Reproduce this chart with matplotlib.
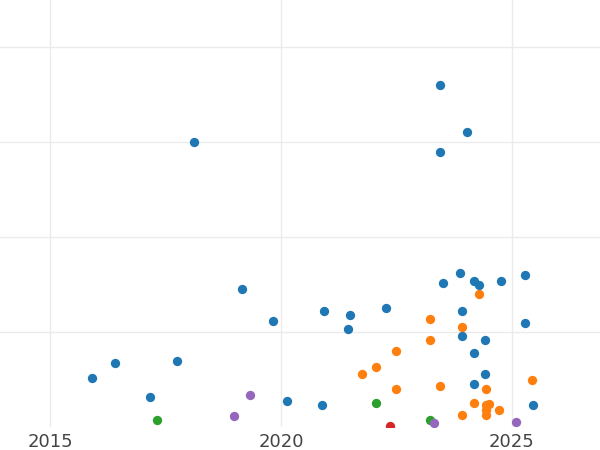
import matplotlib
matplotlib.use("Agg")
import matplotlib.pyplot as plt

# ── data (x = year, y = arbitrary units, grid step 1) ──
blue_x = [2015.90, 2016.40, 2017.16, 2017.75, 2018.12, 2019.16, 2019.83, 2020.13,
          2020.89, 2020.93, 2021.50, 2021.46, 2022.27, 2023.45, 2023.45, 2024.03,
          2023.51, 2023.87, 2024.19, 2024.29, 2024.76, 2025.28, 2023.93, 2023.93,
          2025.28, 2024.41, 2024.19, 2024.42, 2024.19, 2025.45]
blue_y = [0.52, 0.68, 0.32, 0.70, 3.00, 1.46, 1.12, 0.28,
          0.24, 1.22, 1.18, 1.04, 1.26, 3.60, 2.90, 3.11,
          1.52, 1.62, 1.54, 1.50, 1.54, 1.60, 1.22, 0.96,
          1.10, 0.92, 0.78, 0.56, 0.46, 0.24]

orange_x = [2024.28, 2023.23, 2023.93, 2023.23, 2022.48, 2022.05, 2021.76, 2022.48,
            2023.45, 2024.43, 2025.44, 2024.19, 2024.43, 2024.50, 2024.43, 2024.43,
            2024.72, 2023.93]
orange_y = [1.40, 1.14, 1.06, 0.92, 0.80, 0.64, 0.56, 0.40,
            0.44, 0.40, 0.50, 0.26, 0.23, 0.25, 0.18, 0.13,
            0.18, 0.13]

green_x = [2017.31, 2022.06, 2023.22]
green_y = [0.08, 0.26, 0.08]

red_x = [2022.35]
red_y = [0.01]

purple_x = [2018.98, 2019.32, 2023.32, 2025.10]
purple_y = [0.12, 0.34, 0.05, 0.06]

series = [
    (blue_x, blue_y, "#1f77b4"),
    (orange_x, orange_y, "#ff7f0e"),
    (green_x, green_y, "#2ca02c"),
    (red_x, red_y, "#d62728"),
    (purple_x, purple_y, "#9467bd"),
]

fig = plt.figure(figsize=(6, 4.5), dpi=100)
ax = fig.add_axes([0, 0.0504, 1, 0.9496])

for xs, ys, col in series:
    ax.scatter(xs, ys, s=45, color=col, linewidths=0, zorder=3)

ax.set_xlim(2013.91, 2026.91)
ax.set_ylim(0, 4.498)
ax.set_xticks([2015, 2020, 2025])
ax.set_yticks([1, 2, 3, 4])
ax.set_yticklabels([])
ax.grid(True, color="#ebebeb", linewidth=1)
ax.set_axisbelow(True)
ax.tick_params(length=0, labelsize=13, labelcolor="#444444", pad=4)
for sp in ax.spines.values():
    sp.set_visible(False)

fig.savefig("out.png", dpi=100)
